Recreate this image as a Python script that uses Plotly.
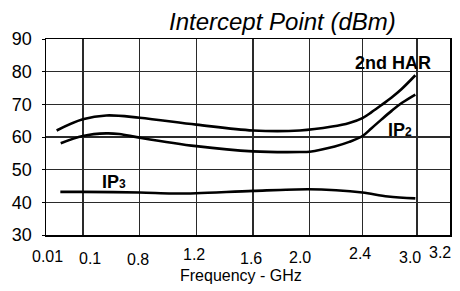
import numpy as np
import plotly.graph_objects as go

# ---------------- data ----------------
grid_freq = [0.01, 0.1, 0.8, 1.2, 1.6, 2.0, 2.4, 3.0, 3.2]
tick_labels = ["0.01", "0.1", "0.8", "1.2", "1.6", "2.0", "2.4", "3.0", "3.2"]
y_ticks = [30, 40, 50, 60, 70, 80, 90]

har_freq = [0.036, 0.1, 0.39, 0.8, 1.2, 1.6, 1.93, 2.17, 2.3, 2.4, 2.5, 2.61, 2.72, 2.83, 2.98]
har_db = [62.0, 65.4, 66.6, 65.9, 63.8, 62.0, 62.0, 63.2, 64.3, 65.8, 67.6, 69.8, 72.1, 74.7, 78.9]

ip2_freq = [0.046, 0.1, 0.39, 0.55, 0.8, 1.2, 1.6, 1.93, 2.0, 2.19, 2.3, 2.4, 2.5, 2.61, 2.72, 2.83, 2.98]
ip2_db = [58.1, 60.3, 61.1, 60.9, 59.8, 57.2, 55.6, 55.4, 55.5, 57.1, 58.5, 60.3, 62.7, 65.4, 68.0, 70.4, 73.0]

ip3_freq = [0.045, 0.1, 0.8, 1.03, 1.2, 1.6, 1.99, 2.2, 2.4, 2.68, 2.98]
ip3_db = [43.2, 43.2, 43.0, 42.7, 42.8, 43.5, 44.0, 43.7, 43.0, 41.8, 41.2]

# ---------------- layout helpers ----------------
W, H = 460, 291
ML, MR, MT, MB = 46, 8, 39, 56
PW, PH = W - ML - MR, H - MT - MB
# non-uniform frequency axis: position (px from plot left) of each grid line
grid_pos = [0, 37, 94, 151, 208, 265, 318, 373, 406]


def to_axis(f):
    return np.interp(f, grid_freq, grid_pos)


def py_paper(py):
    return 1 - (py - MT) / PH


def px_paper(px):
    return (px - ML) / PW


FONT = "Liberation Sans, Arial, sans-serif"

fig = go.Figure()
for fx, fy in [(har_freq, har_db), (ip2_freq, ip2_db), (ip3_freq, ip3_db)]:
    fig.add_trace(go.Scatter(
        x=to_axis(fx), y=fy, mode="lines",
        line=dict(color="black", width=2.6, shape="spline", smoothing=1.0),
        showlegend=False, hoverinfo="skip"))

annotations = []
# x tick labels (offsets mimic the original's placement)
label_dx = [1, 7, -2, -2, -2, -10, -2, -7, -10]
label_py = [256, 258, 259, 254, 258, 257, 253, 257, 252]
for f, t, dx, py in zip(grid_freq, tick_labels, label_dx, label_py):
    annotations.append(dict(x=float(to_axis(f)), xref="x", y=py_paper(py), yref="paper",
                            text=t, showarrow=False, xshift=dx, xanchor="center",
                            yanchor="middle", font=dict(family=FONT, size=16, color="black")))

annotations.append(dict(x=px_paper(241.5), xref="paper", y=py_paper(275.5), yref="paper",
                        text="Frequency - GHz", showarrow=False, xanchor="center", yanchor="middle",
                        font=dict(family=FONT, size=16, color="black")))
annotations.append(dict(x=px_paper(283.5), xref="paper", y=py_paper(21.5), yref="paper",
                        text="<i>Intercept Point (dBm)</i>", showarrow=False, xanchor="center",
                        yanchor="middle", font=dict(family=FONT, size=24, color="black")))

# series labels
annotations.append(dict(x=float(to_axis(2.733)), y=82.65, text="<b>2nd HAR</b>", showarrow=False,
                        xanchor="center", yanchor="middle",
                        font=dict(family=FONT, size=18, color="black")))
annotations.append(dict(x=float(to_axis(2.815)), y=62.2,
                        text="<b>IP<span style='font-size:12px'>2</span></b>", showarrow=False,
                        xanchor="center", yanchor="middle",
                        font=dict(family=FONT, size=18, color="black")))
annotations.append(dict(x=float(to_axis(0.487)), y=46.2,
                        text="<b>IP<span style='font-size:12px'>3</span></b>", showarrow=False,
                        xanchor="center", yanchor="middle",
                        font=dict(family=FONT, size=18, color="black")))

fig.update_layout(
    width=W, height=H,
    margin=dict(l=ML, r=MR, t=MT, b=MB, pad=0),
    paper_bgcolor="white", plot_bgcolor="white",
    annotations=annotations,
    xaxis=dict(range=[grid_pos[0], grid_pos[-1]], tickvals=[float(v) for v in to_axis(grid_freq)],
               showticklabels=False, ticks="", showgrid=True, gridcolor="#2a2a2a", gridwidth=1.4,
               showline=True, linecolor="black", linewidth=1.5, mirror=True, zeroline=False,
               fixedrange=True),
    yaxis=dict(range=[30, 90], tickvals=y_ticks, ticktext=[str(v) for v in y_ticks],
               ticks="outside", ticklen=3, tickcolor="black", tickwidth=1,
               ticklabelstandoff=6,
               tickfont=dict(family=FONT, size=18, color="black"),
               showgrid=True, gridcolor="#2a2a2a", gridwidth=1.4,
               showline=True, linecolor="black", linewidth=1.5, mirror=True, zeroline=False,
               fixedrange=True),
)

fig.write_html("out.html", config={"displayModeBar": False, "staticPlot": True},
               post_script="document.body.style.margin='0';")
